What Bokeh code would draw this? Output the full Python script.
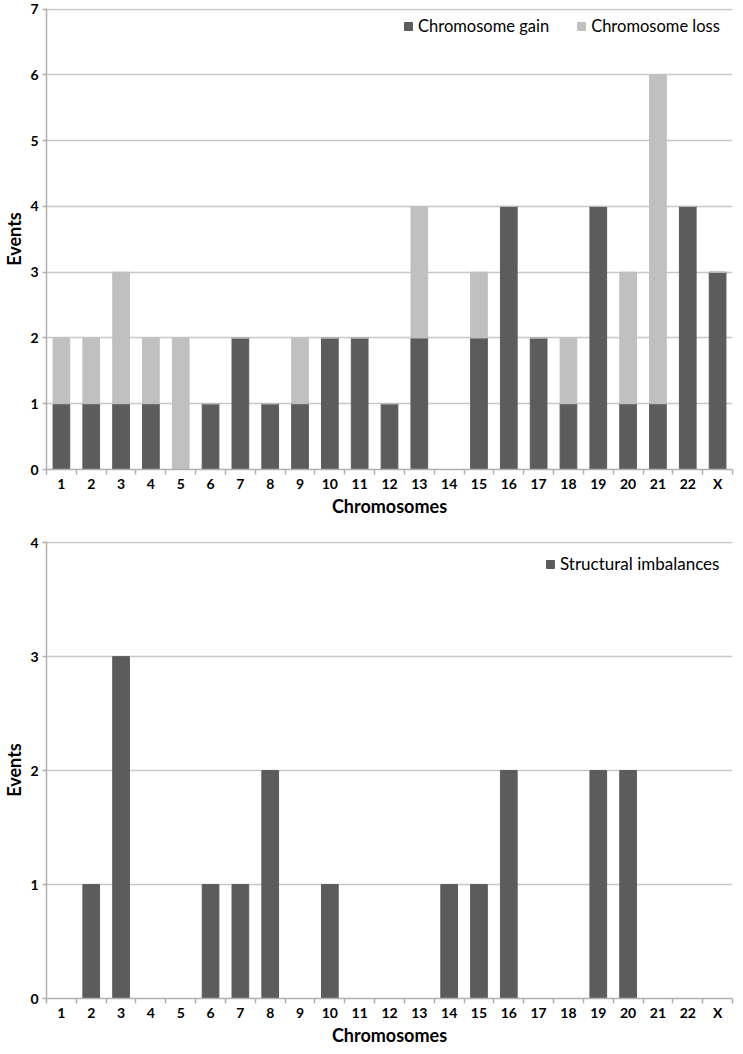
from bokeh.plotting import figure
from bokeh.models import (ColumnDataSource, Range1d, FixedTicker, Legend, LegendItem)
from bokeh.layouts import column
from bokeh.embed import file_html
from bokeh.resources import INLINE

# ---- data ----
chromosomes = ["1", "2", "3", "4", "5", "6", "7", "8", "9", "10", "11", "12",
               "13", "14", "15", "16", "17", "18", "19", "20", "21", "22", "X"]
gain = [1, 1, 1, 1, 0, 1, 2, 1, 1, 2, 2, 1, 2, 0, 2, 4, 2, 1, 4, 1, 1, 4, 3]
loss = [1, 1, 2, 1, 2, 0, 0, 0, 1, 0, 0, 0, 2, 0, 1, 0, 0, 1, 0, 2, 5, 0, 0]
structural = [0, 1, 3, 0, 0, 1, 1, 2, 0, 1, 0, 0, 0, 1, 1, 2, 0, 0, 2, 2, 0, 0, 0]
top_ticks = [0, 1, 2, 3, 4, 5, 6, 7]
bottom_ticks = [0, 1, 2, 3, 4]

DARK = "#5c5c5c"
LIGHT = "#c0c0c0"
GRID = "#c8c8c8"
AXIS = "#b0b0b0"
FONT = "Lato"

positions = list(range(1, len(chromosomes) + 1))
boundaries = [p - 0.5 for p in positions] + [positions[-1] + 0.5]
overrides = {p: c for p, c in zip(positions, chromosomes)}


def make_fig(height, ymax, yticks, border_top, border_bottom):
    p = figure(width=735, height=height, output_backend="svg", toolbar_location=None,
               x_range=Range1d(0.5, len(chromosomes) + 0.5),
               y_range=Range1d(0, ymax + 0.01),
               min_border_left=36, min_border_right=3,
               min_border_top=border_top, min_border_bottom=border_bottom)
    p.outline_line_color = None
    p.background_fill_color = "white"
    p.border_fill_color = "white"
    p.xgrid.grid_line_color = None
    p.ygrid.grid_line_color = GRID
    p.ygrid.grid_line_width = 1.5

    xa = p.xaxis[0]
    xa.ticker = FixedTicker(ticks=positions, minor_ticks=boundaries)
    xa.major_label_overrides = overrides
    xa.major_tick_out = 0
    xa.major_tick_in = 0
    xa.minor_tick_out = 5
    xa.minor_tick_in = 0
    xa.minor_tick_line_color = AXIS
    xa.minor_tick_line_width = 1.5
    xa.axis_line_color = AXIS
    xa.axis_line_width = 1.5
    xa.major_label_text_font = FONT
    xa.major_label_text_font_style = "bold"
    xa.major_label_text_font_size = "14px"
    xa.major_label_text_color = "black"
    xa.major_label_standoff = 0
    xa.axis_label = "Chromosomes"
    xa.axis_label_text_font = FONT
    xa.axis_label_text_font_style = "bold"
    xa.axis_label_text_font_size = "18px"
    xa.axis_label_text_color = "black"
    xa.axis_label_standoff = 0

    ya = p.yaxis[0]
    ya.ticker = FixedTicker(ticks=yticks)
    ya.major_tick_out = 4
    ya.major_tick_in = 0
    ya.minor_tick_out = 0
    ya.minor_tick_in = 0
    ya.major_tick_line_color = AXIS
    ya.major_tick_line_width = 1.5
    ya.axis_line_color = AXIS
    ya.axis_line_width = 1.5
    ya.major_label_text_font = FONT
    ya.major_label_text_font_style = "bold"
    ya.major_label_text_font_size = "14px"
    ya.major_label_text_color = "black"
    ya.major_label_standoff = 4
    ya.axis_label = "Events"
    ya.axis_label_text_font = FONT
    ya.axis_label_text_font_style = "bold"
    ya.axis_label_text_font_size = "18px"
    ya.axis_label_text_color = "black"
    ya.axis_label_standoff = 2
    return p


# ---- top chart ----
p1 = make_fig(521, 7, top_ticks, 8, 52)
src1 = ColumnDataSource(dict(x=positions, gain=gain, loss=loss))
rs = p1.vbar_stack(["gain", "loss"], x="x", width=0.56, source=src1,
                   fill_color=[DARK, LIGHT], line_color=[DARK, LIGHT])
leg1 = Legend(items=[LegendItem(label="Chromosome gain", renderers=[rs[0]]),
                     LegendItem(label="Chromosome loss", renderers=[rs[1]])],
              orientation="horizontal", location=(357, 433),
              glyph_width=10, glyph_height=10, label_standoff=5, spacing=27,
              padding=0, margin=0, border_line_alpha=0, background_fill_alpha=0,
              label_text_font=FONT, label_text_font_size="16.5px",
              label_text_color="black")
p1.add_layout(leg1, "center")

# ---- bottom chart ----
p2 = make_fig(529, 4, bottom_ticks, 20, 52)
src2 = ColumnDataSource(dict(x=positions, structural=structural))
r2 = p2.vbar(x="x", top="structural", width=0.56, source=src2,
             fill_color=DARK, line_color=DARK)
leg2 = Legend(items=[LegendItem(label="Structural imbalances", renderers=[r2])],
              orientation="horizontal", location=(499, 424),
              glyph_width=10, glyph_height=10, label_standoff=5,
              padding=0, margin=0, border_line_alpha=0, background_fill_alpha=0,
              label_text_font=FONT, label_text_font_size="17px",
              label_text_color="black")
p2.add_layout(leg2, "center")

layout = column(p1, p2, spacing=0)
open("out.html", "w").write(file_html(layout, INLINE))
